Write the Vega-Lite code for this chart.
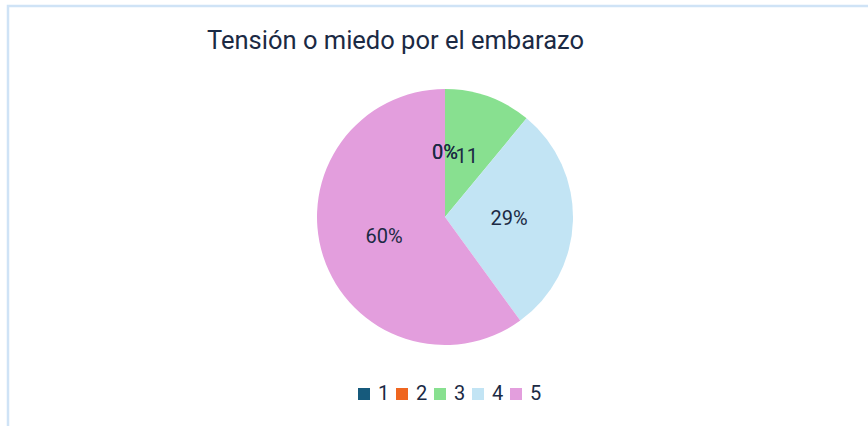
{
  "$schema": "https://vega.github.io/schema/vega-lite/v6.json",
  "autosize": {"type": "none"},
  "width": 874,
  "height": 422,
  "padding": {"left": 8, "top": 6, "right": 0, "bottom": 0},
  "background": "white",
  "view": {"stroke": "#cfe3f6", "strokeWidth": 2.5, "fill": "white"},
  "config": {
    "view": {"stroke": "#cfe3f6", "strokeWidth": 2.5},
    "font": "Roboto"
  },
  "title": {
    "text": "Tensión o miedo por el embarazo",
    "anchor": "start",
    "frame": "group",
    "orient": "top",
    "offset": 0,
    "dx": 199,
    "dy": 68,
    "baseline": "alphabetic",
    "font": "Roboto",
    "fontSize": 25.5,
    "fontWeight": "normal",
    "color": "#1b2a44"
  },
  "data": {
    "values": [
      {"cat": "1", "value": 0, "label": "0%"},
      {"cat": "2", "value": 0, "label": "0%"},
      {"cat": "3", "value": 11, "label": "11"},
      {"cat": "4", "value": 29, "label": "29%"},
      {"cat": "5", "value": 60, "label": "60%"}
    ]
  },
  "encoding": {
    "theta": {"field": "value", "type": "quantitative", "stack": true},
    "order": {"field": "cat", "type": "ordinal", "sort": "ascending"}
  },
  "layer": [
    {
      "mark": {"type": "arc", "outerRadius": 128},
      "encoding": {
        "color": {
          "field": "cat",
          "type": "nominal",
          "scale": {
            "domain": ["1", "2", "3", "4", "5"],
            "range": ["#165a7c", "#ef6620", "#88e090", "#c2e4f4", "#e39edd"]
          },
          "legend": {
            "title": null,
            "orient": "none",
            "direction": "horizontal",
            "legendX": 346,
            "legendY": 378,
            "symbolType": "square",
            "symbolSize": 144,
            "symbolStrokeWidth": 0,
            "labelFont": "Roboto",
            "labelFontSize": 20,
            "labelColor": "#1b2a44",
            "labelOffset": 4,
            "columnPadding": 2
          }
        }
      }
    },
    {
      "mark": {"type": "text", "radius": 64, "font": "Roboto", "fontSize": 20, "color": "#1b2a44"},
      "encoding": {
        "detail": {"field": "cat", "type": "nominal"},
        "text": {"field": "label", "type": "nominal"}
      }
    }
  ]
}
